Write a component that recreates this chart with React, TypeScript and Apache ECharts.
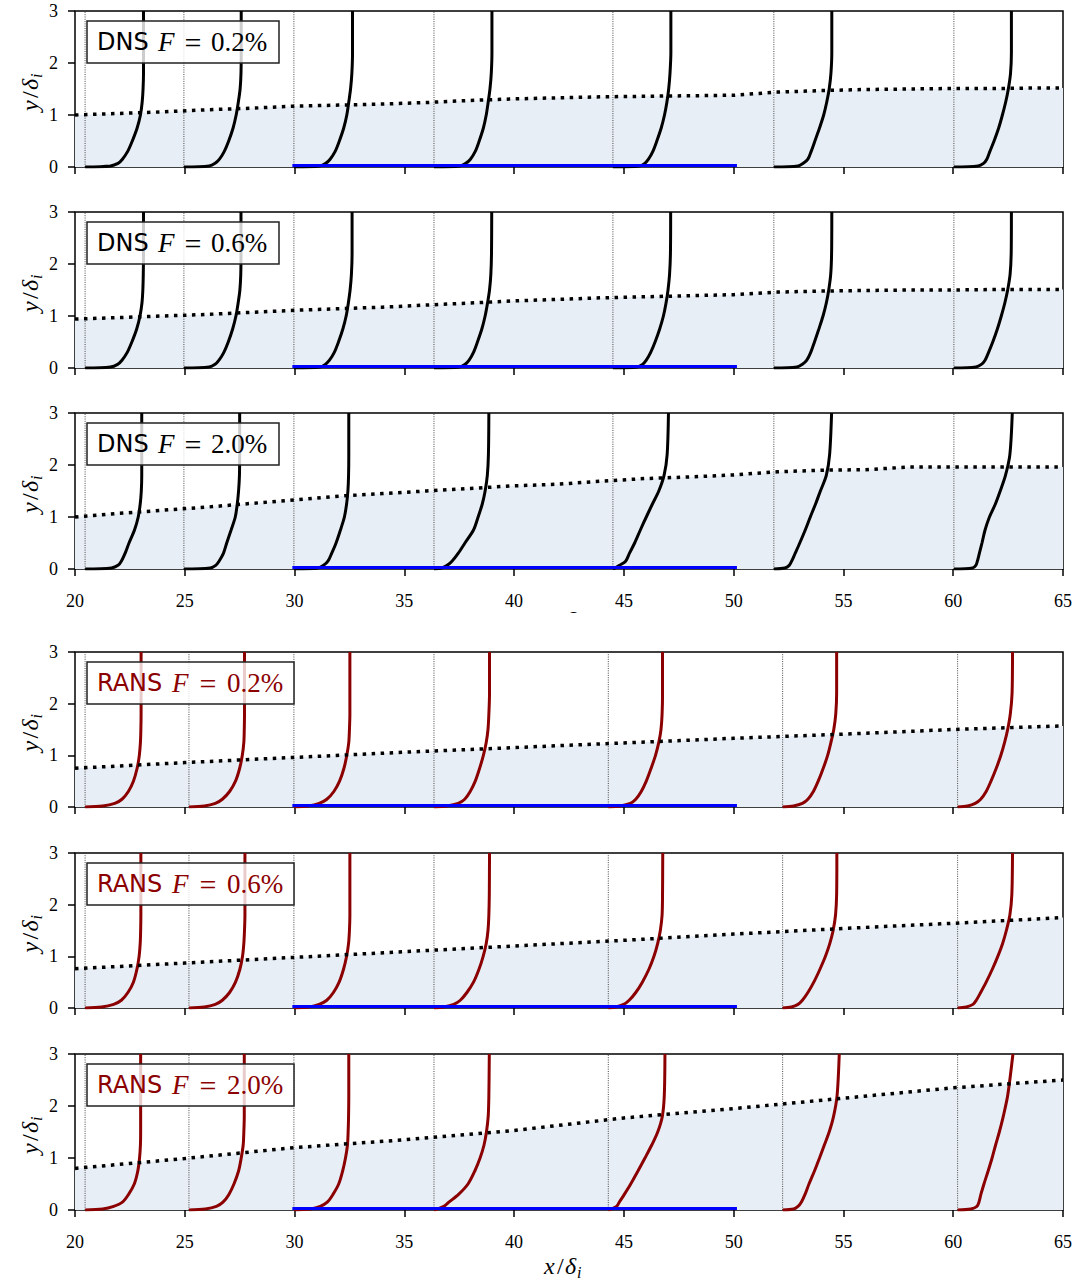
import React, { useEffect, useRef } from "react";
import * as echarts from "echarts";

// ---------- data ----------
const Y_LEVELS = [0, 0.02, 0.07, 0.15, 0.3, 0.5, 0.75, 1.0, 1.25, 1.5, 1.8, 2.2, 3.0];

const DNS_STATIONS = [20.46, 24.96, 29.97, 36.35, 44.5, 51.83, 60.03];
const RANS_STATIONS = [20.46, 25.19, 29.97, 36.35, 44.29, 52.23, 60.2];

// profile offsets (x/δi from station) at each Y_LEVELS value
const DNS_02_PROFILES = [
  [0, 1.15, 1.5, 1.7, 1.94, 2.15, 2.37, 2.52, 2.6, 2.64, 2.66, 2.66, 2.66],
  [0, 1.15, 1.42, 1.62, 1.84, 2.04, 2.24, 2.38, 2.48, 2.56, 2.6, 2.61, 2.61],
  [0, 1.18, 1.45, 1.65, 1.88, 2.07, 2.27, 2.41, 2.5, 2.58, 2.64, 2.67, 2.67],
  [0, 1.18, 1.45, 1.66, 1.88, 2.06, 2.25, 2.38, 2.47, 2.55, 2.61, 2.64, 2.64],
  [0, 1.2, 1.45, 1.62, 1.82, 2.0, 2.2, 2.35, 2.46, 2.54, 2.6, 2.64, 2.64],
  [0, 1.1, 1.34, 1.55, 1.7, 1.87, 2.08, 2.27, 2.41, 2.52, 2.6, 2.64, 2.64],
  [0, 1.1, 1.35, 1.5, 1.64, 1.83, 2.04, 2.21, 2.36, 2.48, 2.58, 2.62, 2.62],
];
const DNS_06_PROFILES = [
  [0, 1.15, 1.48, 1.68, 1.92, 2.13, 2.35, 2.5, 2.59, 2.63, 2.65, 2.66, 2.66],
  [0, 1.15, 1.42, 1.6, 1.82, 2.02, 2.22, 2.37, 2.47, 2.55, 2.59, 2.6, 2.6],
  [0, 1.18, 1.43, 1.62, 1.84, 2.03, 2.23, 2.38, 2.48, 2.56, 2.62, 2.65, 2.65],
  [0, 1.15, 1.42, 1.6, 1.8, 1.98, 2.18, 2.33, 2.44, 2.53, 2.59, 2.62, 2.63],
  [0, 1.1, 1.35, 1.52, 1.72, 1.92, 2.13, 2.3, 2.42, 2.51, 2.58, 2.62, 2.63],
  [0, 1.05, 1.3, 1.5, 1.68, 1.85, 2.05, 2.24, 2.39, 2.5, 2.59, 2.63, 2.64],
  [0, 1.0, 1.25, 1.42, 1.58, 1.77, 1.98, 2.16, 2.32, 2.45, 2.56, 2.61, 2.62],
];
const DNS_20_PROFILES = [
  [0, 1.2, 1.5, 1.65, 1.82, 2.0, 2.25, 2.42, 2.51, 2.56, 2.58, 2.58, 2.58],
  [0, 1.2, 1.45, 1.6, 1.8, 1.95, 2.15, 2.34, 2.43, 2.49, 2.53, 2.54, 2.54],
  [0, 1.1, 1.35, 1.55, 1.72, 1.92, 2.12, 2.3, 2.4, 2.46, 2.49, 2.5, 2.5],
  [0, 0.35, 0.6, 0.82, 1.1, 1.41, 1.8, 2.01, 2.2, 2.33, 2.43, 2.48, 2.5],
  [0, 0.1, 0.3, 0.58, 0.75, 0.99, 1.25, 1.52, 1.8, 2.09, 2.33, 2.47, 2.53],
  [0, 0.5, 0.7, 0.81, 0.97, 1.18, 1.43, 1.66, 1.9, 2.12, 2.39, 2.54, 2.63],
  [0, 0.85, 1.0, 1.07, 1.16, 1.28, 1.42, 1.62, 1.89, 2.11, 2.35, 2.55, 2.66],
];
const RANS_02_PROFILES = [
  [0, 0.8, 1.35, 1.68, 1.97, 2.2, 2.37, 2.47, 2.52, 2.54, 2.55, 2.55, 2.55],
  [0, 0.7, 1.2, 1.52, 1.85, 2.12, 2.31, 2.43, 2.5, 2.52, 2.53, 2.53, 2.53],
  [0, 0.65, 1.15, 1.5, 1.82, 2.08, 2.28, 2.41, 2.5, 2.53, 2.55, 2.55, 2.55],
  [0, 0.6, 1.1, 1.4, 1.65, 1.88, 2.08, 2.25, 2.38, 2.46, 2.5, 2.53, 2.53],
  [0, 0.55, 1.0, 1.25, 1.5, 1.73, 1.95, 2.15, 2.3, 2.4, 2.45, 2.47, 2.47],
  [0, 0.5, 0.9, 1.15, 1.4, 1.62, 1.85, 2.05, 2.2, 2.33, 2.42, 2.46, 2.46],
  [0, 0.45, 0.8, 1.05, 1.3, 1.52, 1.76, 1.97, 2.14, 2.28, 2.4, 2.48, 2.5],
];
const RANS_06_PROFILES = [
  [0, 0.75, 1.3, 1.65, 1.95, 2.2, 2.36, 2.46, 2.51, 2.53, 2.54, 2.54, 2.54],
  [0, 0.7, 1.2, 1.52, 1.85, 2.12, 2.32, 2.44, 2.5, 2.53, 2.55, 2.55, 2.55],
  [0, 0.7, 1.15, 1.5, 1.8, 2.06, 2.26, 2.4, 2.49, 2.53, 2.55, 2.55, 2.55],
  [0, 0.45, 0.9, 1.2, 1.5, 1.8, 2.05, 2.24, 2.38, 2.46, 2.5, 2.52, 2.53],
  [0, 0.35, 0.7, 0.95, 1.25, 1.55, 1.85, 2.08, 2.25, 2.37, 2.45, 2.47, 2.48],
  [0, 0.4, 0.7, 0.9, 1.15, 1.42, 1.7, 1.95, 2.15, 2.3, 2.41, 2.46, 2.47],
  [0, 0.4, 0.7, 0.85, 1.05, 1.3, 1.58, 1.83, 2.05, 2.22, 2.38, 2.47, 2.5],
];
const RANS_20_PROFILES = [
  [0, 0.8, 1.3, 1.7, 1.98, 2.24, 2.4, 2.48, 2.52, 2.53, 2.53, 2.53, 2.53],
  [0, 0.75, 1.25, 1.55, 1.82, 2.05, 2.26, 2.38, 2.47, 2.5, 2.52, 2.52, 2.52],
  [0, 0.75, 1.2, 1.52, 1.78, 2.04, 2.22, 2.35, 2.44, 2.47, 2.49, 2.5, 2.5],
  [0, 0.18, 0.45, 0.68, 1.12, 1.55, 1.86, 2.1, 2.28, 2.39, 2.47, 2.5, 2.52],
  [0, 0.15, 0.38, 0.5, 0.73, 1.02, 1.35, 1.67, 1.98, 2.25, 2.46, 2.55, 2.58],
  [0, 0.5, 0.7, 0.85, 1.02, 1.2, 1.45, 1.68, 1.9, 2.12, 2.32, 2.48, 2.58],
  [0, 0.6, 0.88, 0.97, 1.06, 1.2, 1.39, 1.57, 1.73, 1.9, 2.08, 2.28, 2.52],
];

// boundary-layer thickness (dotted line)
const BL_X_DNS = [20, 22, 24, 26, 28, 30, 32, 34, 36, 38, 40, 42, 44, 46, 48, 50, 52, 54, 56, 58, 60, 62, 64, 65];
const BL_DNS_02 = [1.0, 1.03, 1.06, 1.1, 1.13, 1.17, 1.19, 1.21, 1.24, 1.28, 1.31, 1.33, 1.35, 1.36, 1.37, 1.38, 1.44, 1.47, 1.49, 1.5, 1.51, 1.51, 1.52, 1.52];
const BL_DNS_06 = [0.94, 0.97, 1.0, 1.03, 1.07, 1.11, 1.14, 1.17, 1.21, 1.25, 1.29, 1.32, 1.35, 1.37, 1.39, 1.41, 1.46, 1.48, 1.49, 1.5, 1.5, 1.51, 1.51, 1.51];
const BL_DNS_20 = [1.0, 1.07, 1.13, 1.19, 1.26, 1.33, 1.4, 1.45, 1.5, 1.55, 1.6, 1.63, 1.69, 1.74, 1.77, 1.81, 1.87, 1.9, 1.91, 1.96, 1.96, 1.96, 1.96, 1.96];
const BL_X_RANS = [20, 25, 30, 35, 40, 45, 50, 55, 60, 65];
const BL_RANS_02 = [0.75, 0.86, 0.96, 1.06, 1.15, 1.24, 1.33, 1.41, 1.5, 1.57];
const BL_RANS_06 = [0.76, 0.87, 0.98, 1.09, 1.2, 1.31, 1.43, 1.54, 1.64, 1.75];
const BL_RANS_20 = [0.8, 0.99, 1.2, 1.35, 1.53, 1.77, 1.95, 2.15, 2.35, 2.5];

// forcing region (blue line)
const FORCING_X = [29.9, 50.15];
const FORCING_Y = 0.03;

const X_TICKS = { min: 20, max: 65, interval: 5 };
const Y_TICKS = { min: 0, max: 3, interval: 1 };

const MODELS = ["DNS", "DNS", "DNS", "RANS", "RANS", "RANS"];
const F_LABELS = ["0.2%", "0.6%", "2.0%", "0.2%", "0.6%", "2.0%"];

// ---------- layout / style ----------
const GRID_TOPS = [11, 212, 413, 652, 853, 1054];
const GRID_HEIGHTS = [156, 156, 156, 155, 155, 156];
const GRID_LEFT = 75;
const GRID_WIDTH = 988;
const SERIF = "Liberation Serif, DejaVu Serif, serif";
const SANS = "DejaVu Sans, Noto Sans, sans-serif";
const DNS_COLOR = "#000000";
const RANS_COLOR = "#8b0000";
const FILL = "#e8eef5";

const panels = [
  { model: MODELS[0], f: F_LABELS[0], stations: DNS_STATIONS, profiles: DNS_02_PROFILES, blx: BL_X_DNS, bly: BL_DNS_02 },
  { model: MODELS[1], f: F_LABELS[1], stations: DNS_STATIONS, profiles: DNS_06_PROFILES, blx: BL_X_DNS, bly: BL_DNS_06 },
  { model: MODELS[2], f: F_LABELS[2], stations: DNS_STATIONS, profiles: DNS_20_PROFILES, blx: BL_X_DNS, bly: BL_DNS_20 },
  { model: MODELS[3], f: F_LABELS[3], stations: RANS_STATIONS, profiles: RANS_02_PROFILES, blx: BL_X_RANS, bly: BL_RANS_02 },
  { model: MODELS[4], f: F_LABELS[4], stations: RANS_STATIONS, profiles: RANS_06_PROFILES, blx: BL_X_RANS, bly: BL_RANS_06 },
  { model: MODELS[5], f: F_LABELS[5], stations: RANS_STATIONS, profiles: RANS_20_PROFILES, blx: BL_X_RANS, bly: BL_RANS_20 },
];

function mathLabel(letter: string, cx: number, cy: number, vertical: boolean) {
  const base = { fontFamily: SERIF, fontSize: 24, fill: "#000", align: "left", verticalAlign: "middle" };
  return {
    type: "group",
    x: cx,
    y: cy,
    rotation: vertical ? Math.PI / 2 : 0,
    z: 100,
    children: [
      { type: "text", x: -22, y: 0, style: { ...base, text: letter, fontStyle: "italic" } },
      { type: "text", x: -9, y: 0, style: { ...base, text: "/" } },
      { type: "text", x: -1, y: 0, style: { ...base, text: "δ", fontStyle: "italic" } },
      { type: "text", x: 11, y: 6, style: { ...base, text: "i", fontSize: 16, fontStyle: "italic" } },
    ],
  };
}

function buildOption() {
  const grids: any[] = [];
  const xAxes: any[] = [];
  const yAxes: any[] = [];
  const series: any[] = [];
  const graphics: any[] = [];

  panels.forEach((p, i) => {
    const isRans = p.model === "RANS";
    const color = isRans ? RANS_COLOR : DNS_COLOR;
    const top = GRID_TOPS[i];
    const h = GRID_HEIGHTS[i];
    grids.push({
      left: GRID_LEFT,
      top,
      width: GRID_WIDTH,
      height: h,
      show: true,
      backgroundColor: "#ffffff",
      borderColor: "#000",
      borderWidth: 1.5,
      containLabel: false,
    });
    const showX = i === 2 || i === 5;
    xAxes.push({
      type: "value",
      gridIndex: i,
      min: X_TICKS.min,
      max: X_TICKS.max,
      interval: X_TICKS.interval,
      axisLine: { show: false },
      axisTick: { show: true, length: 7, lineStyle: { color: "#000", width: 1.5 } },
      splitLine: { show: false },
      axisLabel: {
        show: showX,
        color: "#000",
        fontFamily: SERIF,
        fontSize: 18,
        margin: 23,
      },
    });
    yAxes.push({
      type: "value",
      gridIndex: i,
      min: Y_TICKS.min,
      max: Y_TICKS.max,
      interval: Y_TICKS.interval,
      axisLine: { show: false },
      axisTick: { show: true, length: 7, lineStyle: { color: "#000", width: 1.5 } },
      splitLine: { show: false },
      axisLabel: { color: "#000", fontFamily: SERIF, fontSize: 18, margin: 17 },
    });

    // shaded boundary-layer region
    series.push({
      type: "line",
      xAxisIndex: i,
      yAxisIndex: i,
      data: p.blx.map((x, k) => [x, p.bly[k]]),
      symbol: "none",
      lineStyle: { width: 0, opacity: 0 },
      areaStyle: { color: FILL, opacity: 1 },
      z: 1,
      silent: true,
    });

    // station lines
    p.stations.forEach((s) => {
      series.push({
        type: "line",
        xAxisIndex: i,
        yAxisIndex: i,
        data: [
          [s, Y_TICKS.min],
          [s, Y_TICKS.max],
        ],
        symbol: "none",
        lineStyle: { color: "#333", width: 0.9, type: [1, 1.3] },
        z: 2,
        silent: true,
      });
    });

    // velocity profiles
    p.profiles.forEach((prof, j) => {
      const s = p.stations[j];
      series.push({
        type: "line",
        xAxisIndex: i,
        yAxisIndex: i,
        data: prof.map((du, k) => [s + du, Y_LEVELS[k]]),
        symbol: "none",
        smooth: 0.3,
        lineStyle: { color, width: 3 },
        z: 3,
        silent: true,
      });
    });

    // boundary-layer thickness
    series.push({
      type: "line",
      xAxisIndex: i,
      yAxisIndex: i,
      data: p.blx.map((x, k) => [x, p.bly[k]]),
      symbol: "none",
      lineStyle: { color: "#000", width: 3.5, type: [3.5, 5.5], cap: "butt" },
      z: 4,
      silent: true,
    });

    // forcing region
    series.push({
      type: "line",
      xAxisIndex: i,
      yAxisIndex: i,
      data: FORCING_X.map((x) => [x, FORCING_Y]),
      symbol: "none",
      lineStyle: { color: "#0000ff", width: 3 },
      z: 5,
      silent: true,
    });

    // label box
    const boxW = isRans ? 207 : 192;
    const boxTop = top + 10;
    const cy = boxTop + 21;
    graphics.push({
      type: "rect",
      shape: { x: 87, y: boxTop, width: boxW, height: 42 },
      style: { fill: "rgba(255,255,255,0.8)", stroke: "#222", lineWidth: 1.5 },
      z: 100,
    });
    const fx = isRans ? 172 : 158;
    const eqx = isRans ? 208 : 193;
    const vx = isRans ? 227 : 211;
    graphics.push({
      type: "text",
      x: 97,
      y: cy,
      style: { text: p.model, fontFamily: SANS, fontSize: 24, fill: color, align: "left", verticalAlign: "middle" },
      z: 101,
    });
    graphics.push({
      type: "text",
      x: fx,
      y: cy,
      style: { text: "F", fontFamily: SERIF, fontStyle: "italic", fontSize: 27, fill: color, align: "left", verticalAlign: "middle" },
      z: 101,
    });
    graphics.push({
      type: "text",
      x: eqx,
      y: cy,
      style: { text: "=", fontFamily: SERIF, fontSize: 30, fill: color, align: "center", verticalAlign: "middle" },
      z: 101,
    });
    graphics.push({
      type: "text",
      x: vx,
      y: cy,
      style: { text: p.f, fontFamily: SERIF, fontSize: 27, fill: color, align: "left", verticalAlign: "middle" },
      z: 101,
    });

    graphics.push(mathLabel("y", 30, top + h / 2, true));
  });

  // x labels
  graphics.push(mathLabel("x", 566, 1266, false));
  graphics.push(mathLabel("x", 566, 620, false));
  graphics.push({
    type: "rect",
    shape: { x: 520, y: 613, width: 100, height: 36 },
    style: { fill: "#ffffff" },
    z: 102,
  });

  return {
    animation: false,
    backgroundColor: "#ffffff",
    grid: grids,
    xAxis: xAxes,
    yAxis: yAxes,
    series,
    graphic: graphics,
  };
}

export default function App() {
  const ref = useRef<HTMLDivElement>(null);
  useEffect(() => {
    if (!ref.current) return;
    const chart = echarts.init(ref.current, undefined, { renderer: "svg" });
    chart.setOption(buildOption() as any);
    return () => chart.dispose();
  }, []);
  return (
    <div
      ref={ref}
      style={{ position: "absolute", left: 0, top: 0, width: 1078, height: 1283, background: "#fff" }}
    />
  );
}
